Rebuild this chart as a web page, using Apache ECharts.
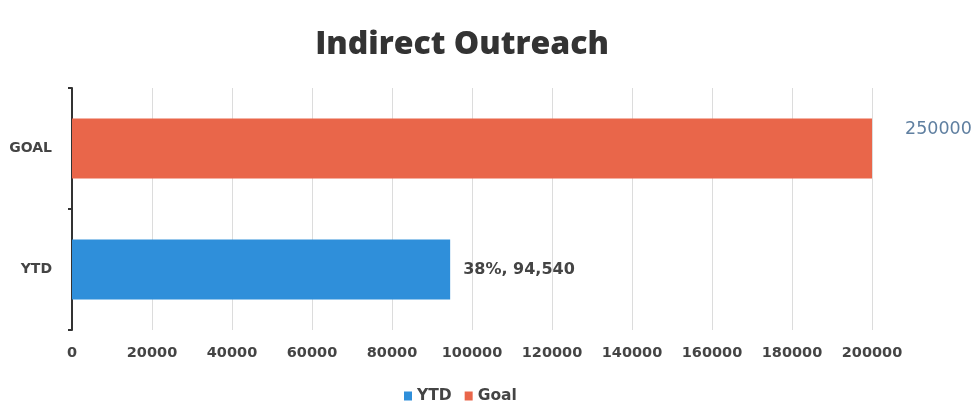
<!DOCTYPE html>
<html><head><meta charset="utf-8">
<script src="https://cdn.jsdelivr.net/npm/echarts@6/dist/echarts.min.js"></script>
<style>html,body{margin:0;padding:0;background:#fff}#c{width:980px;height:404px}</style>
</head><body><div id="c"></div>
<script>
const categories = ['YTD', 'GOAL'];
const ytdValues = [94540, '-'];
const goalValues = ['-', 250000];
const goalTotal = 250000;
const xTicks = [0, 20000, 40000, 60000, 80000, 100000, 120000, 140000, 160000, 180000, 200000];

const chart = echarts.init(document.getElementById('c'));
chart.setOption({
  backgroundColor: '#fff',
  animation: false,
  title: {
    text: 'Indirect Outreach', left: 457, top: 24, textAlign: 'center',
    textStyle: { fontFamily: 'Open Sans', fontWeight: 800, fontSize: 32, color: '#333' }
  },
  legend: {
    data: ['YTD', 'Goal'], left: 399, top: 383, icon: 'rect', itemWidth: 8, itemHeight: 9, itemGap: 13,
    textStyle: { fontFamily: 'DejaVu Sans', fontWeight: 'bold', fontSize: 15.5, color: '#444' }
  },
  grid: { left: 72, right: 108, top: 88, bottom: 74 },
  xAxis: {
    type: 'value', min: xTicks[0], max: xTicks[xTicks.length - 1], interval: xTicks[1] - xTicks[0],
    axisLine: { show: false }, axisTick: { show: false },
    splitLine: { lineStyle: { color: '#dcdcdc' } },
    axisLabel: { margin: 16, fontFamily: 'DejaVu Sans', fontWeight: 'bold', fontSize: 14.5, color: '#444',
      formatter: v => String(v) }
  },
  yAxis: {
    type: 'category', data: categories,
    axisLine: { lineStyle: { color: '#333', width: 2 } },
    axisTick: { show: true, length: 4, lineStyle: { color: '#333', width: 2 } },
    axisLabel: { margin: 20, fontFamily: 'DejaVu Sans', fontWeight: 'bold', fontSize: 14, color: '#444' }
  },
  series: [
    {
      name: 'YTD', type: 'bar', data: ytdValues, barWidth: 60, barGap: '-100%',
      itemStyle: { color: '#2f8fda' },
      label: {
        show: true, position: 'right', distance: 13,
        fontFamily: 'DejaVu Sans', fontWeight: 'bold', fontSize: 16, color: '#444',
        formatter: p => Math.round(p.value / goalTotal * 100) + '%, ' + p.value.toLocaleString('en-US')
      }
    },
    {
      name: 'Goal', type: 'bar', data: goalValues, barWidth: 60, clip: true,
      itemStyle: { color: '#e9664a' },
      label: {
        show: true, position: 'right', distance: 33, offset: [0, -19],
        fontFamily: 'DejaVu Sans', fontSize: 17.5, color: '#5f7fa0',
        formatter: p => String(p.value)
      }
    }
  ]
});
</script></body></html>
